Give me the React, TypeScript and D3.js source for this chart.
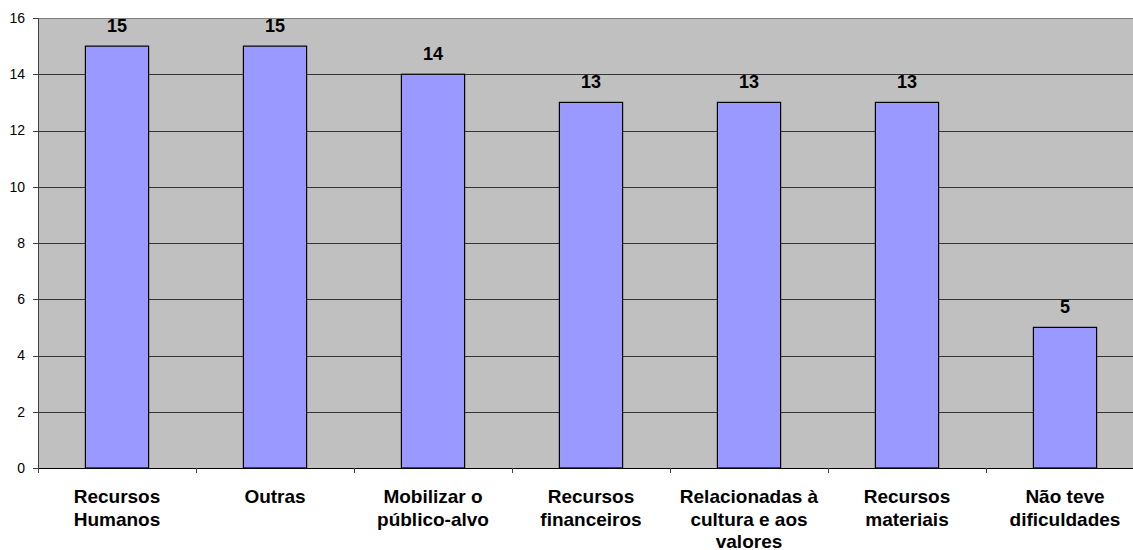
import React, { useEffect } from "react";
import * as d3 from "d3";

// Difficulties reported, one bar per category
const categories: string[] = [
  "Recursos\nHumanos",
  "Outras",
  "Mobilizar o\npúblico-alvo",
  "Recursos\nfinanceiros",
  "Relacionadas à\ncultura e aos\nvalores",
  "Recursos\nmateriais",
  "Não teve\ndificuldades",
];
const values: number[] = [15, 15, 14, 13, 13, 13, 5];
const yTicks: number[] = [0, 2, 4, 6, 8, 10, 12, 14, 16];

const W = 1133;
const H = 550;
const margin = { left: 38, top: 18, bottom: 82 };
const plotRight = 1144;

export default function App() {
  useEffect(() => {
    document.body.style.margin = "0";
  }, []);

  const x = d3
    .scaleBand<number>()
    .domain(d3.range(categories.length))
    .range([margin.left, plotRight])
    .paddingInner(0)
    .paddingOuter(0);
  const y = d3
    .scaleLinear()
    .domain([0, 16])
    .range([H - margin.bottom, margin.top]);

  const bw = x.bandwidth();
  const barW = bw * 0.4;
  const font = "'Liberation Sans', Arial, Helvetica, sans-serif";

  return (
    <svg width={W} height={H} style={{ display: "block" }} fontFamily={font}>
      <rect x={0} y={0} width={W} height={H} fill="#ffffff" />
      {/* plot area */}
      <rect
        x={margin.left}
        y={y(16)}
        width={plotRight - margin.left}
        height={y(0) - y(16)}
        fill="#C0C0C0"
      />
      {/* gridlines */}
      {yTicks.map((t) => (
        <line
          key={"g" + t}
          x1={margin.left}
          x2={plotRight}
          y1={Math.round(y(t)) + 0.5}
          y2={Math.round(y(t)) + 0.5}
          stroke={t === 16 ? "#808080" : "#333333"}
          strokeWidth={1}
        />
      ))}
      {/* y axis */}
      <line
        x1={margin.left + 0.5}
        x2={margin.left + 0.5}
        y1={y(16)}
        y2={y(0)}
        stroke="#404040"
      />
      {yTicks.map((t) => (
        <g key={"t" + t}>
          <line
            x1={margin.left - 5}
            x2={margin.left}
            y1={Math.round(y(t)) + 0.5}
            y2={Math.round(y(t)) + 0.5}
            stroke="#404040"
          />
          <text
            x={25}
            y={y(t)}
            dy="0.35em"
            textAnchor="end"
            fontSize={14}
            fill="#000"
          >
            {t}
          </text>
        </g>
      ))}
      {/* bars */}
      {values.map((v, i) => {
        const cx = (x(i) as number) + bw / 2;
        return (
          <g key={"b" + i}>
            <rect
              x={cx - barW / 2}
              y={y(v)}
              width={barW}
              height={y(0) - y(v)}
              fill="#9999FF"
              stroke="#000"
              strokeWidth={1.2}
            />
            <text
              x={cx}
              y={y(v) - 14}
              textAnchor="middle"
              fontSize={18}
              fontWeight="bold"
              fill="#000"
            >
              {v}
            </text>
          </g>
        );
      })}
      {/* x axis */}
      <line
        x1={margin.left}
        x2={plotRight}
        y1={y(0) + 0.5}
        y2={y(0) + 0.5}
        stroke="#000"
      />
      {d3.range(categories.length + 1).map((i) => {
        const bx = Math.round(margin.left + i * bw) + 0.5;
        return (
          <line
            key={"xt" + i}
            x1={bx}
            x2={bx}
            y1={y(0)}
            y2={y(0) + 5}
            stroke="#404040"
          />
        );
      })}
      {categories.map((c, i) => {
        const cx = (x(i) as number) + bw / 2;
        return (
          <text
            key={"c" + i}
            x={cx}
            y={503}
            textAnchor="middle"
            fontSize={19}
            fontWeight="bold"
            fill="#000"
          >
            {c.split("\n").map((line, j) => (
              <tspan key={j} x={cx} dy={j === 0 ? 0 : 22.5}>
                {line}
              </tspan>
            ))}
          </text>
        );
      })}
    </svg>
  );
}
